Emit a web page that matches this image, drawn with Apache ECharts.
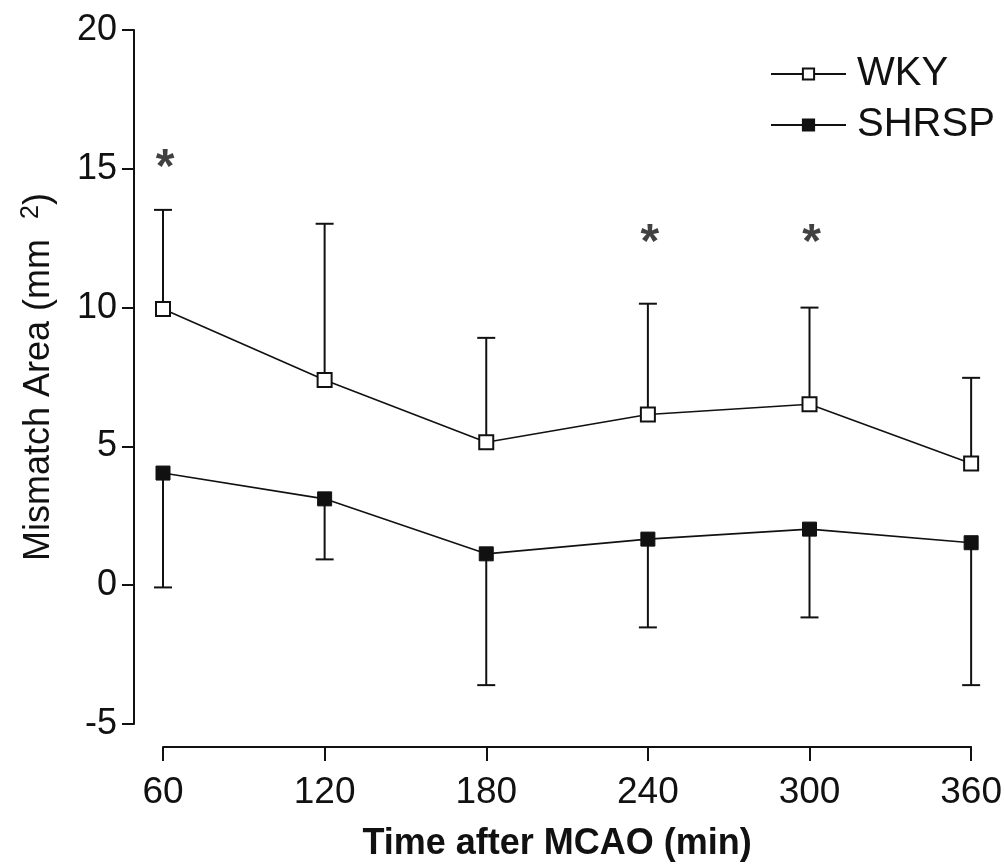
<!DOCTYPE html>
<html>
<head>
<meta charset="utf-8">
<script src="https://cdn.jsdelivr.net/npm/echarts@6/dist/echarts.min.js"></script>
<style>
  html, body { margin: 0; padding: 0; background: #fff; }
  #chart { width: 1005px; height: 867px; }
</style>
</head>
<body>
<div id="chart"></div>
<script>
// minutes after MCAO
const times = [60, 120, 180, 240, 300, 360];
const xTicks = [60, 120, 180, 240, 300, 360];

const wkyMean = [9.95, 7.39, 5.15, 6.15, 6.52, 4.38];
const wkyHigh = [13.52, 13.02, 8.91, 10.14, 10.0, 7.47];
const shrspMean = [4.04, 3.11, 1.13, 1.66, 2.02, 1.53];
const shrspLow = [-0.08, 0.93, -3.6, -1.52, -1.16, -3.6];

// significance stars (time, height)
const starTimes = [60, 240, 300];
const starY = [15.4, 12.7, 12.7];

const INK = '#111';
const FONT = '"Liberation Sans", Arial, sans-serif';

const chart = echarts.init(document.getElementById('chart'));

function errBar(params, api) {
  const top = api.coord([api.value(0), api.value(1)]);
  const end = api.coord([api.value(0), api.value(2)]);
  const style = { stroke: INK, lineWidth: 2 };
  return {
    type: 'group',
    children: [
      { type: 'line', shape: { x1: top[0], y1: top[1], x2: end[0], y2: end[1] }, style },
      { type: 'line', shape: { x1: end[0] - 9, y1: end[1], x2: end[0] + 9, y2: end[1] }, style },
    ],
  };
}

chart.setOption({
  animation: false,
  grid: { left: 163, right: 32, top: 30, bottom: 141 },
  legend: {
    left: 765, top: 49, orient: 'vertical', itemWidth: 75, itemHeight: 14, itemGap: 11,
    data: ['WKY', 'SHRSP'],
    textStyle: { fontFamily: FONT, fontSize: 40, color: INK, padding: [0, 0, 0, 6] },
  },
  xAxis: {
    type: 'value', min: 60, max: 360, interval: 60, offset: 23,
    axisLine: { onZero: false, lineStyle: { color: INK, width: 2 } },
    axisTick: { length: 14, lineStyle: { color: INK, width: 2 } },
    axisLabel: {
      margin: 27, fontFamily: FONT, fontSize: 37, color: INK,
      formatter: (v) => (xTicks.includes(v) ? String(v) : ''),
    },
    splitLine: { show: false },
    name: 'Time after MCAO (min)', nameLocation: 'middle', nameGap: 79,
    nameTextStyle: { fontFamily: FONT, fontWeight: 'bold', fontSize: 36, color: INK, padding: [0, 20, 0, 0] },
  },
  yAxis: {
    type: 'value', min: -5, max: 20, interval: 5, offset: 29,
    axisLine: { show: true, lineStyle: { color: INK, width: 2 } },
    axisTick: { show: true, length: 12, lineStyle: { color: INK, width: 2 } },
    axisLabel: { margin: 17, fontFamily: FONT, fontSize: 36, color: INK },
    splitLine: { show: false },
    name: '{t|Mismatch Area (mm  }{s|2}{t|)}', nameLocation: 'middle', nameRotate: 90, nameGap: 74,
    nameTextStyle: {
      fontFamily: FONT, fontSize: 36, color: INK,
      rich: {
        t: { fontFamily: FONT, fontSize: 36, color: INK },
        s: { fontFamily: FONT, fontSize: 25, color: INK, verticalAlign: 'top', padding: [0, 0, 16, 0] },
      },
    },
  },
  series: [
    {
      type: 'custom', renderItem: errBar, silent: true, z: 1,
      data: times.map((t, i) => [t, wkyMean[i], wkyHigh[i]]),
    },
    {
      type: 'custom', renderItem: errBar, silent: true, z: 1,
      data: times.map((t, i) => [t, shrspMean[i], shrspLow[i]]),
    },
    {
      name: 'WKY', type: 'line', z: 3,
      data: times.map((t, i) => [t, wkyMean[i]]),
      symbol: 'rect', symbolSize: 14,
      lineStyle: { color: INK, width: 1.6 },
      itemStyle: { color: '#fff', borderColor: INK, borderWidth: 2 },
    },
    {
      name: 'SHRSP', type: 'line', z: 3,
      data: times.map((t, i) => [t, shrspMean[i]]),
      symbol: 'rect', symbolSize: 14,
      lineStyle: { color: INK, width: 1.6 },
      itemStyle: { color: INK, borderColor: INK, borderWidth: 1 },
    },
    {
      type: 'scatter', silent: true, z: 4,
      data: starTimes.map((t, i) => [t, starY[i]]),
      symbolSize: 0,
      label: {
        show: true, position: 'inside', formatter: '*', offset: [2, 11],
        fontFamily: FONT, fontWeight: 'bold', fontSize: 48, color: INK,
      },
    },
  ],
});
</script>
</body>
</html>
